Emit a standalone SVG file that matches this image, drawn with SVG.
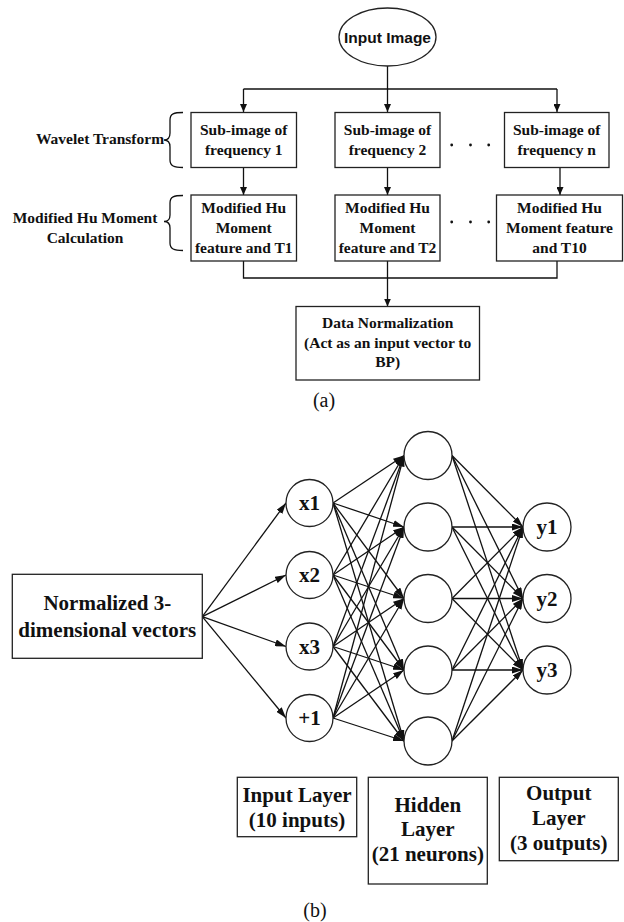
<svg xmlns="http://www.w3.org/2000/svg" width="624" height="922" viewBox="0 0 624 922">
<style>
.bx{fill:#fff;stroke:#222;stroke-width:1.3}
.ln{fill:none;stroke:#111;stroke-width:1.3}
.t{font-family:"Liberation Serif","Times New Roman",serif;font-weight:bold;font-size:15.5px;text-anchor:middle;fill:#111}
.b{font-size:21px}
.cap{font-family:"Liberation Serif","Times New Roman",serif;font-size:20px;text-anchor:middle;fill:#111}
.s{font-family:"Liberation Sans",Arial,sans-serif;font-weight:bold;font-size:15.5px;text-anchor:middle;fill:#111}
.dot{fill:#111}
</style>
<defs>
<marker id="as" viewBox="0 0 8 7" refX="8" refY="3.5" markerWidth="8" markerHeight="7" markerUnits="userSpaceOnUse" orient="auto"><path d="M0,0 L8,3.5 L0,7 z" fill="#111"/></marker>
<marker id="ah" viewBox="0 0 11 7" refX="11" refY="3.5" markerWidth="11" markerHeight="7" markerUnits="userSpaceOnUse" orient="auto"><path d="M0,0 L11,3.5 L0,7 z" fill="#111"/></marker>
</defs>
<rect width="624" height="922" fill="#fff"/>

<g id="connectors">
<g class="ln" marker-end="url(#as)">
<path d="M387.5,66 V112"/>
<path d="M243.5,89 V112"/>
<path d="M557,89 V112"/>
<path d="M243.5,167.5 V195"/>
<path d="M387.5,167.5 V195"/>
<path d="M560,167.5 V195"/>
<path d="M387.5,261 V306.5"/>
</g>
<path class="ln" d="M243.5,89 H557"/>
<path class="ln" d="M243.5,261 V278 H557 V261"/>
<g class="ln" marker-end="url(#ah)">
<path d="M202.3,616.7 L286,503"/>
<path d="M202.3,616.7 L286,575"/>
<path d="M202.3,616.7 L286,646.5"/>
<path d="M202.3,616.7 L286,718"/>
<path d="M333,503 L404,455.5"/><path d="M333,503 L404,527"/><path d="M333,503 L404,598.5"/><path d="M333,503 L404,670"/><path d="M333,503 L404,741"/>
<path d="M333,575 L404,455.5"/><path d="M333,575 L404,527"/><path d="M333,575 L404,598.5"/><path d="M333,575 L404,670"/><path d="M333,575 L404,741"/>
<path d="M333,646.5 L404,455.5"/><path d="M333,646.5 L404,527"/><path d="M333,646.5 L404,598.5"/><path d="M333,646.5 L404,670"/><path d="M333,646.5 L404,741"/>
<path d="M333,718 L404,455.5"/><path d="M333,718 L404,527"/><path d="M333,718 L404,598.5"/><path d="M333,718 L404,670"/><path d="M333,718 L404,741"/>
<path d="M452,455.5 L523,527"/><path d="M452,455.5 L523,598.5"/><path d="M452,455.5 L523,670"/>
<path d="M452,527 L523,527"/><path d="M452,527 L523,598.5"/><path d="M452,527 L523,670"/>
<path d="M452,598.5 L523,527"/><path d="M452,598.5 L523,598.5"/><path d="M452,598.5 L523,670"/>
<path d="M452,670 L523,527"/><path d="M452,670 L523,598.5"/><path d="M452,670 L523,670"/>
<path d="M452,741 L523,527"/><path d="M452,741 L523,598.5"/><path d="M452,741 L523,670"/>
</g>
</g>

<g id="input-image">
<ellipse cx="387.5" cy="37" rx="48.5" ry="29" class="bx"/>
<text class="s" x="387.5" y="43">Input Image</text>
</g>

<g id="wavelet-label">
<text class="t" x="100" y="144">Wavelet Transform</text>
<path class="ln" d="M183,112.5 C174,112.5 170,113.5 170,120 L170,133 C170,138 168,140 164,140 C168,140 170,142 170,147 L170,160 C170,166 174,167.5 183,167.5"/>
</g>
<g id="hu-label">
<text class="t" x="85" y="223">Modified Hu Moment</text>
<text class="t" x="85" y="243">Calculation</text>
<path class="ln" d="M183,195.5 C174,195.5 170,196.5 170,203 L170,215 C170,220 168,221.5 164,221.5 C168,221.5 170,223 170,228 L170,243 C170,249 174,250.5 183,250.5"/>
</g>

<g id="sub1"><rect class="bx" x="191" y="112.5" width="105.5" height="55"/>
<text class="t" x="243.7" y="135">Sub-image of</text><text class="t" x="243.7" y="155">frequency 1</text></g>
<g id="sub2"><rect class="bx" x="335" y="112.5" width="105" height="55"/>
<text class="t" x="387.5" y="135">Sub-image of</text><text class="t" x="387.5" y="155">frequency 2</text></g>
<g id="subn"><rect class="bx" x="504.5" y="112.5" width="104.5" height="55"/>
<text class="t" x="556.7" y="135">Sub-image of</text><text class="t" x="556.7" y="155">frequency n</text></g>

<g id="dots1"><circle class="dot" cx="451.7" cy="145" r="1.4"/><circle class="dot" cx="470.5" cy="145" r="1.4"/><circle class="dot" cx="488.7" cy="145" r="1.4"/></g>
<g id="dots2"><circle class="dot" cx="451.7" cy="222" r="1.4"/><circle class="dot" cx="470.5" cy="222" r="1.4"/><circle class="dot" cx="488.7" cy="222" r="1.4"/></g>

<g id="hu1"><rect class="bx" x="191" y="195" width="105.5" height="66"/>
<text class="t" x="243.7" y="213">Modified Hu</text><text class="t" x="243.7" y="233">Moment</text><text class="t" x="243.7" y="253">feature and T1</text></g>
<g id="hu2"><rect class="bx" x="335" y="195" width="105" height="66"/>
<text class="t" x="387.5" y="213">Modified Hu</text><text class="t" x="387.5" y="233">Moment</text><text class="t" x="387.5" y="253">feature and T2</text></g>
<g id="hu10"><rect class="bx" x="496.5" y="195" width="126" height="66"/>
<text class="t" x="559.5" y="213">Modified Hu</text><text class="t" x="559.5" y="233">Moment feature</text><text class="t" x="559.5" y="253">and T10</text></g>

<g id="norm"><rect class="bx" x="296" y="306.5" width="183.5" height="73.5"/>
<text class="t" x="387.7" y="328">Data Normalization</text><text class="t" x="387.7" y="348">(Act as an input vector to</text><text class="t" x="387.7" y="367">BP)</text></g>

<text class="cap" x="324" y="407">(a)</text>

<g id="vectors"><rect class="bx" x="12.3" y="574.3" width="190" height="84"/>
<text class="t b" x="107.3" y="610">Normalized 3-</text><text class="t b" x="107.3" y="637">dimensional vectors</text></g>

<g id="x1"><circle class="bx" cx="309.5" cy="503" r="23.5"/><text class="t b" x="309.5" y="510">x1</text></g>
<g id="x2"><circle class="bx" cx="309.5" cy="575" r="23.5"/><text class="t b" x="309.5" y="582">x2</text></g>
<g id="x3"><circle class="bx" cx="309.5" cy="646.5" r="23.5"/><text class="t b" x="309.5" y="653.5">x3</text></g>
<g id="bias"><circle class="bx" cx="309.5" cy="718" r="23.5"/><text class="t b" x="309.5" y="725">+1</text></g>

<g id="h1"><circle class="bx" cx="428" cy="455.5" r="24"/></g>
<g id="h2"><circle class="bx" cx="428" cy="527" r="24"/></g>
<g id="h3"><circle class="bx" cx="428" cy="598.5" r="24"/></g>
<g id="h4"><circle class="bx" cx="428" cy="670" r="24"/></g>
<g id="h5"><circle class="bx" cx="428" cy="741" r="24"/></g>

<g id="y1"><circle class="bx" cx="547" cy="527" r="24"/><text class="t b" x="547" y="534">y1</text></g>
<g id="y2"><circle class="bx" cx="547" cy="598.5" r="24"/><text class="t b" x="547" y="605.5">y2</text></g>
<g id="y3"><circle class="bx" cx="547" cy="670" r="24"/><text class="t b" x="547" y="677">y3</text></g>

<g id="input-layer"><rect class="bx" x="237.3" y="777.3" width="119.4" height="59.4"/>
<text class="t b" x="297" y="801.5">Input Layer</text><text class="t b" x="297" y="826.5">(10 inputs)</text></g>
<g id="hidden-layer"><rect class="bx" x="368.3" y="777.3" width="119" height="106.7"/>
<text class="t b" x="427.8" y="811.5">Hidden</text><text class="t b" x="427.8" y="836">Layer</text><text class="t b" x="427.8" y="861">(21 neurons)</text></g>
<g id="output-layer"><rect class="bx" x="499.3" y="777.3" width="119" height="83.4"/>
<text class="t b" x="558.8" y="799.5">Output</text><text class="t b" x="558.8" y="824.5">Layer</text><text class="t b" x="558.8" y="849.5">(3 outputs)</text></g>

<text class="cap" x="315" y="917">(b)</text>
</svg>
